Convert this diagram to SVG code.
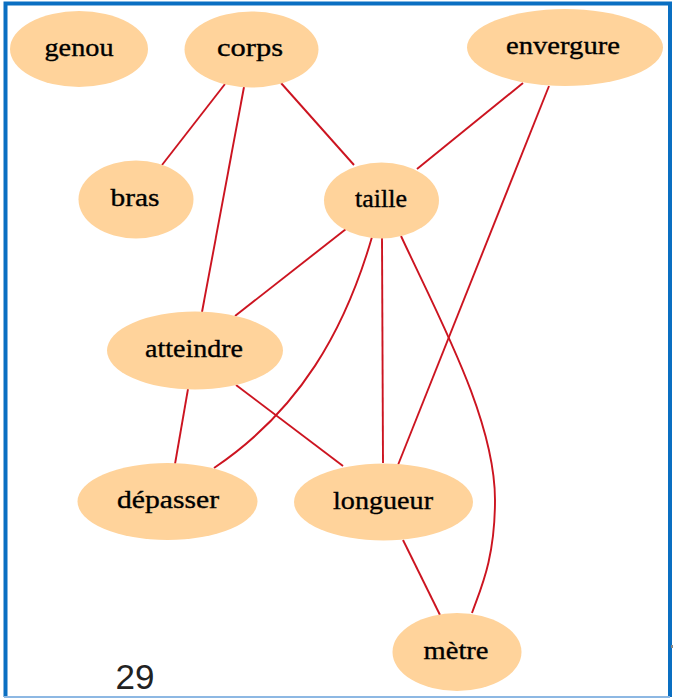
<svg xmlns="http://www.w3.org/2000/svg" width="673" height="698" viewBox="0 0 673 698">
<style>
.n ellipse{fill:#ffd39b;stroke:none}
.n text{font-family:"Liberation Serif","Times New Roman",serif;font-size:26px;fill:#000;stroke:#000;stroke-width:0.35;text-anchor:middle}
.e path{fill:none;stroke:#cc1420;stroke-width:1.9}
</style>
<rect width="673" height="698" fill="#fff"/>
<path d="M5.5,697 V3.5 H670 V697" fill="none" stroke="#0a6fc2" stroke-width="4"/>
<line x1="4" y1="697" x2="670" y2="697" stroke="#8db8e3" stroke-width="2"/>
<rect x="671" y="645" width="2" height="3" fill="#888"/>
<g class="e" id="edges">
<path d="M225,84 L162,165"/>
<path d="M244,87 L202,312"/>
<path d="M281,83 L354,165"/>
<path d="M523,83 L417,169"/>
<path d="M549,86 L398,465"/>
<path d="M346,229 L235,316"/>
<path d="M372,237 C345,330 300,410 214,468"/>
<path d="M382,237 L383,463"/>
<path d="M401,236 C440,320 495,420 495,500 C495,560 480,590 472,613"/>
<path d="M188,389 L175,464"/>
<path d="M236,385 L343,466"/>
<path d="M403,540 L440,615"/>
</g>
<g class="n" id="genou"><ellipse cx="79" cy="49" rx="69" ry="38"/><text x="79" y="55.5" textLength="69" lengthAdjust="spacingAndGlyphs">genou</text></g>
<g class="n" id="corps"><ellipse cx="251.5" cy="49.5" rx="67" ry="38"/><text x="250" y="56" textLength="66" lengthAdjust="spacingAndGlyphs">corps</text></g>
<g class="n" id="envergure"><ellipse cx="565" cy="47.5" rx="98" ry="38.5"/><text x="563" y="54" textLength="114" lengthAdjust="spacingAndGlyphs">envergure</text></g>
<g class="n" id="bras"><ellipse cx="136" cy="199.5" rx="57.5" ry="39"/><text x="135" y="206" textLength="49" lengthAdjust="spacingAndGlyphs">bras</text></g>
<g class="n" id="taille"><ellipse cx="381.5" cy="200.5" rx="57.5" ry="38"/><text x="381" y="207" textLength="52" lengthAdjust="spacingAndGlyphs">taille</text></g>
<g class="n" id="atteindre"><ellipse cx="195" cy="350.5" rx="88" ry="39"/><text x="194" y="357" textLength="98" lengthAdjust="spacingAndGlyphs">atteindre</text></g>
<g class="n" id="depasser"><ellipse cx="167.5" cy="501.5" rx="90" ry="38.5"/><text x="168" y="508" textLength="102" lengthAdjust="spacingAndGlyphs">dépasser</text></g>
<g class="n" id="longueur"><ellipse cx="383.5" cy="502" rx="89.5" ry="38.5"/><text x="383" y="508.5" textLength="100" lengthAdjust="spacingAndGlyphs">longueur</text></g>
<g class="n" id="metre"><ellipse cx="457" cy="652" rx="64.5" ry="39"/><text x="456" y="658.5" textLength="65" lengthAdjust="spacingAndGlyphs">mètre</text></g>
<text x="135" y="689" font-family="'Liberation Sans',Arial,sans-serif" font-size="35" fill="#222" text-anchor="middle">29</text>
</svg>
